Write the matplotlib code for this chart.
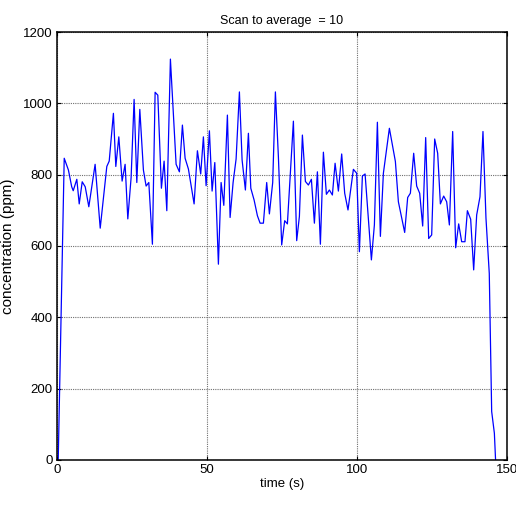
import matplotlib
matplotlib.use("Agg")
import matplotlib.pyplot as plt

plt.rcParams['font.family'] = ['Liberation Sans', 'DejaVu Sans']

# values
time_s = [0.4, 2.4, 3.8, 4.9, 5.4, 6.6, 7.4, 8.4, 9.4, 10.6,
          12.7, 14.4, 16.6, 17.4, 18.8, 19.6, 20.6, 21.7, 22.7, 23.6,
          24.7, 25.7, 26.6, 27.6, 28.8, 29.7, 30.6, 31.8, 32.7, 33.6,
          34.8, 35.7, 36.6, 37.8, 39.7, 40.8, 41.8, 42.7, 43.8, 45.7,
          46.8, 47.9, 48.8, 49.7, 50.8, 51.7, 52.6, 53.8, 54.7, 55.6,
          56.8, 57.7, 58.7, 59.7, 60.8, 61.7, 62.8, 63.8, 64.6, 65.7,
          66.8, 67.7, 68.8, 69.9, 70.8, 71.9, 72.8, 73.8, 74.9, 75.9,
          76.8, 78.8, 79.9, 80.8, 81.8, 82.8, 83.8, 84.8, 85.8, 86.8,
          87.8, 88.8, 89.8, 90.8, 91.8, 92.7, 93.8, 94.9, 95.9, 97.0,
          98.8, 99.9, 100.8, 101.8, 102.7, 104.8, 105.8, 106.8, 107.8, 108.8,
          110.8, 112.8, 113.8, 115.9, 116.9, 117.8, 118.9, 119.9, 120.9, 121.9,
          122.9, 123.9, 124.9, 125.9, 126.9, 127.8, 128.9, 129.9, 130.8, 131.9,
          132.9, 133.9, 134.9, 136.0, 136.8, 137.9, 138.9, 139.9, 141.0, 142.0,
          143.0, 144.1, 144.9, 145.8, 146.2]

conc_ppm = [0, 846, 813, 766, 755, 787, 718, 780, 766, 710,
            829, 650, 823, 838, 972, 823, 906, 782, 829, 676,
            792, 1011, 778, 983, 813, 768, 778, 605, 1031, 1023,
            762, 838, 699, 1124, 829, 808, 939, 846, 816, 718,
            867, 802, 906, 769, 923, 754, 834, 549, 778, 714,
            967, 680, 778, 844, 1032, 841, 757, 916, 762, 729,
            685, 664, 664, 778, 690, 778, 1032, 850, 603, 671,
            662, 950, 615, 683, 911, 781, 771, 787, 664, 808,
            605, 863, 745, 757, 743, 832, 754, 858, 748, 701,
            815, 804, 584, 796, 802, 561, 659, 947, 627, 804,
            930, 837, 724, 638, 736, 748, 860, 768, 748, 656,
            904, 621, 631, 900, 860, 718, 740, 724, 659, 921,
            595, 662, 612, 612, 699, 675, 533, 687, 738, 921,
            678, 523, 136, 75, 0]

x_ticks = [0, 50, 100, 150]
y_ticks = [0, 200, 400, 600, 800, 1000, 1200]

fig = plt.figure(figsize=(5.16, 5.08), dpi=100)
ax = fig.add_axes([0.1105, 0.0945, 0.872, 0.8425])

ax.plot(time_s, conc_ppm, color='#0000ff', linewidth=0.9)

ax.set_xlim(0, 150)
ax.set_ylim(0, 1200)
ax.set_xticks(x_ticks)
ax.set_yticks(y_ticks)
ax.grid(True, linestyle=(0, (1, 1)), color='#707070', linewidth=0.8)
ax.tick_params(direction='in', length=3, labelsize=9.5, top=True, right=True,
               labeltop=False, labelright=False, pad=3)
for s in ax.spines.values():
    s.set_linewidth(1.1)

ax.set_title('Scan to average  = 10', fontsize=9, pad=6)
ax.set_xlabel('time (s)', fontsize=9.5, labelpad=1)
ax.set_ylabel('concentration (ppm)', fontsize=11)
ax.yaxis.set_label_coords(-0.093, 0.5)

fig.savefig('out.png', dpi=100)
